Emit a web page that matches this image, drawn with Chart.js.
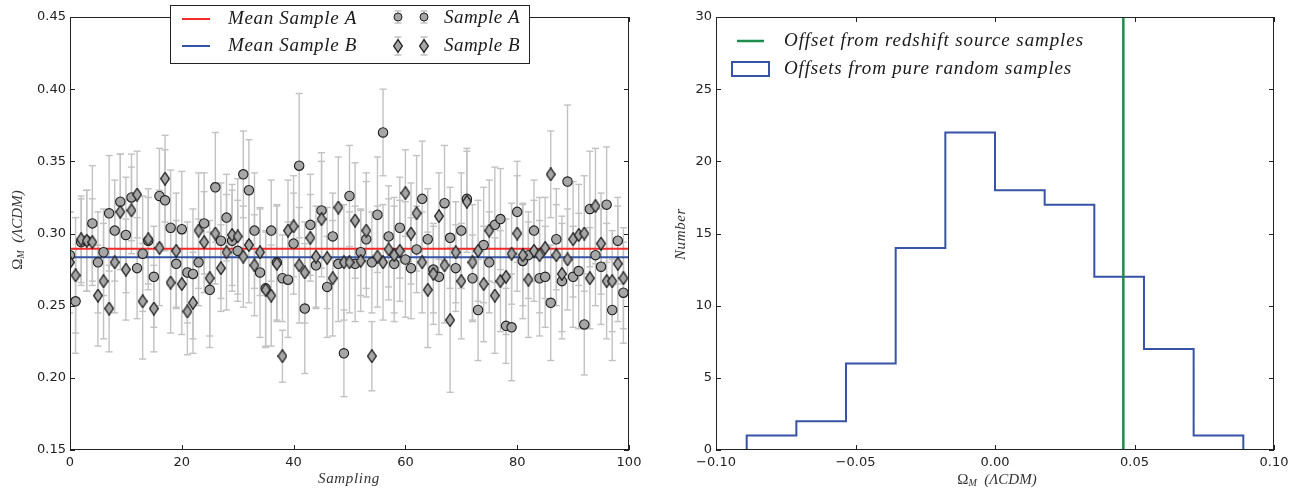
<!DOCTYPE html>
<html>
<head>
<meta charset="utf-8">
<title>Omega_M samples</title>
<script src="https://cdn.jsdelivr.net/npm/chart.js@4.4.1/dist/chart.umd.min.js"></script>
<style>
  html, body { margin: 0; padding: 0; background: #fff; }
  #wrap { position: relative; width: 1306px; height: 491px; overflow: hidden; }
  .panel { position: absolute; top: 0; width: 653px; height: 491px; }
</style>
</head>
<body>
<div id="wrap">
  <div class="panel" style="left:0"><canvas id="left" width="653" height="491"></canvas></div>
  <div class="panel" style="left:653px"><canvas id="right" width="653" height="491"></canvas></div>
</div>
<script>
// ---- left panel: 100 samplings ----
const sampling = Array.from({ length: 100 }, (_, i) => i);

const sampleA = [
  0.285, 0.253, 0.294, 0.295, 0.307, 0.280, 0.287, 0.314, 0.302, 0.322,
  0.299, 0.325, 0.276, 0.286, 0.295, 0.270, 0.326, 0.323, 0.304, 0.279,
  0.303, 0.273, 0.272, 0.280, 0.307, 0.261, 0.332, 0.295, 0.311, 0.295,
  0.288, 0.341, 0.330, 0.302, 0.273, 0.262, 0.302, 0.280, 0.269, 0.268,
  0.293, 0.347, 0.248, 0.306, 0.278, 0.316, 0.263, 0.298, 0.279, 0.217,
  0.326, 0.279, 0.287, 0.296, 0.280, 0.313, 0.370, 0.298, 0.279, 0.304,
  0.282, 0.276, 0.289, 0.324, 0.296, 0.275, 0.270, 0.321, 0.297, 0.276,
  0.302, 0.324, 0.269, 0.247, 0.292, 0.280, 0.306, 0.310, 0.236, 0.235,
  0.315, 0.281, 0.285, 0.302, 0.269, 0.270, 0.252, 0.296, 0.267, 0.336,
  0.270, 0.274, 0.237, 0.317, 0.285, 0.277, 0.320, 0.247, 0.295, 0.259
];
const errA = [
  0.030, 0.036, 0.030, 0.035, 0.040, 0.035, 0.030, 0.040, 0.035, 0.033,
  0.040, 0.030, 0.035, 0.040, 0.030, 0.035, 0.033, 0.035, 0.040, 0.030,
  0.040, 0.035, 0.045, 0.030, 0.035, 0.040, 0.038, 0.040, 0.030, 0.035,
  0.035, 0.030, 0.035, 0.040, 0.045, 0.040, 0.035, 0.040, 0.030, 0.040,
  0.035, 0.050, 0.045, 0.035, 0.030, 0.040, 0.035, 0.030, 0.040, 0.030,
  0.035, 0.040, 0.030, 0.040, 0.035, 0.040, 0.030, 0.035, 0.040, 0.035,
  0.040, 0.035, 0.030, 0.040, 0.035, 0.030, 0.040, 0.040, 0.035, 0.030,
  0.040, 0.035, 0.030, 0.035, 0.040, 0.035, 0.040, 0.035, 0.026, 0.037,
  0.035, 0.040, 0.030, 0.035, 0.040, 0.035, 0.040, 0.035, 0.040, 0.053,
  0.035, 0.040, 0.035, 0.040, 0.035, 0.040, 0.040, 0.035, 0.030, 0.035
];
const sampleB = [
  0.280, 0.271, 0.296, 0.295, 0.294, 0.257, 0.267, 0.248, 0.280, 0.315,
  0.275, 0.316, 0.327, 0.253, 0.296, 0.248, 0.290, 0.338, 0.266, 0.288,
  0.265, 0.246, 0.252, 0.302, 0.294, 0.269, 0.300, 0.276, 0.287, 0.299,
  0.298, 0.284, 0.292, 0.278, 0.287, 0.261, 0.257, 0.279, 0.215, 0.302,
  0.305, 0.278, 0.273, 0.297, 0.284, 0.310, 0.283, 0.269, 0.318, 0.280,
  0.280, 0.309, 0.281, 0.302, 0.215, 0.284, 0.280, 0.289, 0.285, 0.288,
  0.328, 0.300, 0.314, 0.280, 0.261, 0.272, 0.312, 0.278, 0.240, 0.287,
  0.267, 0.322, 0.280, 0.288, 0.265, 0.302, 0.257, 0.267, 0.270, 0.286,
  0.300, 0.285, 0.268, 0.288, 0.285, 0.290, 0.341, 0.285, 0.272, 0.282,
  0.296, 0.299, 0.300, 0.269, 0.319, 0.293, 0.267, 0.267, 0.279, 0.269
];
const errB = [
  0.035, 0.040, 0.030, 0.035, 0.030, 0.035, 0.040, 0.030, 0.035, 0.040,
  0.035, 0.030, 0.030, 0.040, 0.035, 0.030, 0.040, 0.030, 0.035, 0.040,
  0.035, 0.030, 0.035, 0.040, 0.035, 0.040, 0.035, 0.030, 0.040, 0.035,
  0.040, 0.035, 0.040, 0.035, 0.030, 0.040, 0.035, 0.040, 0.018, 0.035,
  0.035, 0.040, 0.035, 0.030, 0.035, 0.040, 0.035, 0.040, 0.035, 0.040,
  0.035, 0.040, 0.035, 0.040, 0.024, 0.035, 0.040, 0.035, 0.040, 0.035,
  0.030, 0.035, 0.040, 0.035, 0.040, 0.035, 0.030, 0.040, 0.050, 0.035,
  0.040, 0.035, 0.040, 0.035, 0.040, 0.035, 0.040, 0.035, 0.040, 0.035,
  0.040, 0.035, 0.040, 0.035, 0.040, 0.035, 0.030, 0.035, 0.040, 0.035,
  0.040, 0.035, 0.040, 0.035, 0.040, 0.035, 0.040, 0.035, 0.040, 0.035
];
const meanA = 0.2895;
const meanB = 0.2835;
const leftYTicks = [0.15, 0.20, 0.25, 0.30, 0.35, 0.40, 0.45];
const leftXTicks = [0, 20, 40, 60, 80, 100];

// ---- right panel: histogram of offsets ----
const binEdges = [-0.089, -0.0712, -0.0534, -0.0356, -0.0178, 0.0, 0.0178, 0.0356, 0.0534, 0.0712, 0.089];
const binCounts = [1, 2, 6, 14, 22, 18, 17, 12, 7, 1];
const redshiftOffset = 0.046;
const rightXTicks = [-0.10, -0.05, 0.00, 0.05, 0.10];
const rightYTicks = [0, 5, 10, 15, 20, 25, 30];

const SERIF = '"Liberation Serif"';
const MARKER_FILL = '#a6a6a6';
const MARKER_EDGE = '#1e1e1e';
const ERR_COLOR = '#c2c2c2';
const RED = '#f42a2a';
const BLUE = '#3653a5';
const GREEN = '#1e8c4c';

// thin diamond marker (matplotlib 'd')
function makeDiamond(w, h) {
  const c = document.createElement('canvas');
  c.width = w; c.height = h;
  const g = c.getContext('2d');
  g.beginPath();
  g.moveTo(w / 2, 0.7);
  g.lineTo(w - 0.7, h / 2);
  g.lineTo(w / 2, h - 0.7);
  g.lineTo(0.7, h / 2);
  g.closePath();
  g.fillStyle = MARKER_FILL;
  g.fill();
  g.lineWidth = 1.3;
  g.strokeStyle = MARKER_EDGE;
  g.stroke();
  return c;
}
const diamond = makeDiamond(10, 14);

const toPts = vals => sampling.map((x, i) => ({ x: x, y: vals[i] }));
const toErr = (vals, errs) => {
  const out = [];
  sampling.forEach((x, i) => {
    out.push({ x: x, y: vals[i] - errs[i] }, { x: x, y: vals[i] + errs[i] }, { x: x, y: null });
  });
  return out;
};

function tickFixed(list) {
  return function (scale) {
    scale.ticks = list.map(v => ({ value: v }));
  };
}

function fmt2(v) {
  if (Math.abs(v) < 1e-9) return '0.00';
  return (v < 0 ? '\u2212' : '') + Math.abs(v).toFixed(2);
}

// text spread / squeezed to a target width
function fitText(ctx, text, x, y, font, width, align) {
  ctx.font = font;
  ctx.letterSpacing = '0px';
  const w0 = ctx.measureText(text).width;
  const s = (width - w0) / text.length;
  ctx.letterSpacing = s.toFixed(2) + 'px';
  ctx.textAlign = align || 'left';
  ctx.fillText(text, x, y);
  ctx.letterSpacing = '0px';
}

// "Ω_M (ΛCDM)" label centred on the current origin
function omegaLabel(ctx) {
  const parts = [
    { t: '\u03A9', f: '15px ' + SERIF, dy: 0 },
    { t: 'M', f: 'italic 10px ' + SERIF, dy: 3 },
    { t: '  (\u039BCDM)', f: 'italic 15px ' + SERIF, dy: 0 }
  ];
  let total = 0;
  parts.forEach(p => { ctx.font = p.f; p.w = ctx.measureText(p.t).width; total += p.w; });
  let cx = -total / 2;
  ctx.textAlign = 'left';
  ctx.textBaseline = 'middle';
  parts.forEach(p => { ctx.font = p.f; ctx.fillText(p.t, cx, p.dy); cx += p.w; });
}

function frameAndTicks(chart) {
  const { ctx, chartArea: a, scales } = chart;
  const len = 5;
  ctx.save();
  ctx.strokeStyle = '#222';
  ctx.lineWidth = 1;
  ctx.beginPath();
  scales.x.ticks.forEach(t => {
    const px = Math.round(scales.x.getPixelForValue(t.value)) + 0.5;
    ctx.moveTo(px, a.bottom); ctx.lineTo(px, a.bottom - len);
    ctx.moveTo(px, a.top); ctx.lineTo(px, a.top + len);
  });
  scales.y.ticks.forEach(t => {
    const py = Math.round(scales.y.getPixelForValue(t.value)) + 0.5;
    ctx.moveTo(a.left, py); ctx.lineTo(a.left + len, py);
    ctx.moveTo(a.right, py); ctx.lineTo(a.right - len, py);
  });
  ctx.stroke();
  ctx.strokeRect(Math.round(a.left) + 0.5, Math.round(a.top) + 0.5,
    Math.round(a.right - a.left) - 1, Math.round(a.bottom - a.top) - 1);
  ctx.restore();
}

function errIcon(ctx, x, y, half, marker) {
  ctx.strokeStyle = ERR_COLOR;
  ctx.lineWidth = 1.5;
  ctx.beginPath();
  ctx.moveTo(x, y - half); ctx.lineTo(x, y + half);
  ctx.moveTo(x - 3.5, y - half); ctx.lineTo(x + 3.5, y - half);
  ctx.moveTo(x - 3.5, y + half); ctx.lineTo(x + 3.5, y + half);
  ctx.stroke();
  if (marker === 'circle') {
    ctx.beginPath();
    ctx.arc(x, y, 4, 0, Math.PI * 2);
    ctx.fillStyle = MARKER_FILL;
    ctx.fill();
    ctx.lineWidth = 1;
    ctx.strokeStyle = MARKER_EDGE;
    ctx.stroke();
  } else {
    ctx.drawImage(diamond, x - diamond.width / 2, y - diamond.height / 2);
  }
}

const leftDecor = {
  id: 'leftDecor',
  afterDraw(chart) {
    const ctx = chart.ctx;
    frameAndTicks(chart);
    ctx.save();
    // legend box
    ctx.fillStyle = '#fff';
    ctx.fillRect(170, 5, 359, 58);
    ctx.strokeStyle = '#222';
    ctx.lineWidth = 1;
    ctx.strokeRect(170.5, 5.5, 359, 58);
    ctx.lineWidth = 2;
    ctx.strokeStyle = RED;
    ctx.beginPath(); ctx.moveTo(182, 19); ctx.lineTo(210, 19); ctx.stroke();
    ctx.strokeStyle = BLUE;
    ctx.beginPath(); ctx.moveTo(182, 46); ctx.lineTo(210, 46); ctx.stroke();
    errIcon(ctx, 398, 17, 6, 'circle');
    errIcon(ctx, 424, 17, 6, 'circle');
    errIcon(ctx, 398, 46, 9, 'diamond');
    errIcon(ctx, 424, 46, 9, 'diamond');
    ctx.fillStyle = '#1a1a1a';
    ctx.textBaseline = 'middle';
    fitText(ctx, 'Mean Sample A', 228, 19, 'italic 19px ' + SERIF, 129);
    fitText(ctx, 'Mean Sample B', 228, 46, 'italic 19px ' + SERIF, 129);
    fitText(ctx, 'Sample A', 444, 18, 'italic 19px ' + SERIF, 76);
    fitText(ctx, 'Sample B', 444, 46, 'italic 19px ' + SERIF, 76);
    // axis titles
    ctx.fillStyle = '#333';
    fitText(ctx, 'Sampling', 349, 479, 'italic 15px ' + SERIF, 62, 'center');
    ctx.translate(18, 230);
    ctx.rotate(-Math.PI / 2);
    omegaLabel(ctx);
    ctx.restore();
  }
};

const rightDecor = {
  id: 'rightDecor',
  afterDraw(chart) {
    const ctx = chart.ctx;
    frameAndTicks(chart);
    ctx.save();
    const ox = 653;
    ctx.strokeStyle = GREEN;
    ctx.lineWidth = 2.5;
    ctx.beginPath(); ctx.moveTo(737 - ox, 41); ctx.lineTo(764 - ox, 41); ctx.stroke();
    ctx.strokeStyle = BLUE;
    ctx.lineWidth = 2;
    ctx.strokeRect(732 - ox, 62, 37, 14);
    ctx.fillStyle = '#1a1a1a';
    ctx.textBaseline = 'middle';
    fitText(ctx, 'Offset from redshift source samples', 784 - ox, 41, 'italic 19px ' + SERIF, 300);
    fitText(ctx, 'Offsets from pure random samples', 784 - ox, 69, 'italic 19px ' + SERIF, 288);
    ctx.fillStyle = '#333';
    ctx.save();
    ctx.translate(997 - ox, 480);
    omegaLabel(ctx);
    ctx.restore();
    ctx.translate(681 - ox, 234);
    ctx.rotate(-Math.PI / 2);
    fitText(ctx, 'Number', 0, 0, 'italic 15px ' + SERIF, 52, 'center');
    ctx.restore();
  }
};

const tickFont = { family: 'DejaVu Sans', size: 13 };

const leftChart = new Chart(document.getElementById('left'), {
  type: 'scatter',
  data: {
    datasets: [
      {
        label: 'Sample B', data: toPts(sampleB), pointStyle: diamond, pointRadius: 6,
        order: 0
      },
      {
        label: 'Sample A', data: toPts(sampleA), pointStyle: 'circle', pointRadius: 4.7,
        backgroundColor: MARKER_FILL, borderColor: MARKER_EDGE, borderWidth: 1.1, order: 1
      },
      {
        type: 'line', label: 'Mean Sample A', data: [{ x: 0, y: meanA }, { x: 100, y: meanA }],
        borderColor: RED, borderWidth: 2, pointRadius: 0, order: 2
      },
      {
        type: 'line', label: 'Mean Sample B', data: [{ x: 0, y: meanB }, { x: 100, y: meanB }],
        borderColor: BLUE, borderWidth: 2, pointRadius: 0, order: 2
      },
      {
        type: 'line', label: 'err B', data: toErr(sampleB, errB), spanGaps: false,
        borderColor: ERR_COLOR, borderWidth: 1.4, pointStyle: 'line', pointRadius: 3.5,
        pointBorderColor: ERR_COLOR, pointBorderWidth: 1.4, order: 3
      },
      {
        type: 'line', label: 'err A', data: toErr(sampleA, errA), spanGaps: false,
        borderColor: ERR_COLOR, borderWidth: 1.4, pointStyle: 'line', pointRadius: 3.5,
        pointBorderColor: ERR_COLOR, pointBorderWidth: 1.4, order: 4
      }
    ]
  },
  options: {
    responsive: false,
    animation: false,
    devicePixelRatio: 1,
    layout: { padding: { top: 17, right: 24, left: 0, bottom: 0 } },
    plugins: { legend: { display: false }, tooltip: { enabled: false } },
    scales: {
      x: {
        type: 'linear', min: 0, max: 100,
        afterFit: s => { s.height = 41; },
        afterBuildTicks: tickFixed(leftXTicks),
        grid: { display: false, drawTicks: false },
        border: { display: false },
        ticks: { padding: 5, color: '#222', font: tickFont, maxRotation: 0 }
      },
      y: {
        type: 'linear', min: 0.15, max: 0.45,
        afterFit: s => { s.width = 70; },
        afterBuildTicks: tickFixed(leftYTicks),
        grid: { display: false, drawTicks: false },
        border: { display: false },
        ticks: { padding: 4, color: '#222', font: tickFont, callback: v => fmt2(v) }
      }
    }
  },
  plugins: [leftDecor]
});

const histPts = [{ x: binEdges[0], y: 0 }]
  .concat(binCounts.map((c, i) => ({ x: binEdges[i], y: c })))
  .concat([{ x: binEdges[binEdges.length - 1], y: 0 }]);

const rightChart = new Chart(document.getElementById('right'), {
  type: 'line',
  data: {
    datasets: [
      {
        label: 'Offset from redshift source samples',
        data: [{ x: redshiftOffset, y: 0 }, { x: redshiftOffset, y: 30 }],
        borderColor: GREEN, borderWidth: 2.5, pointRadius: 0, order: 0
      },
      {
        label: 'Offsets from pure random samples', data: histPts, stepped: 'before',
        borderColor: BLUE, borderWidth: 2, pointRadius: 0, fill: false, order: 1
      }
    ]
  },
  options: {
    responsive: false,
    animation: false,
    devicePixelRatio: 1,
    layout: { padding: { top: 17, right: 32, left: 0, bottom: 0 } },
    plugins: { legend: { display: false }, tooltip: { enabled: false } },
    scales: {
      x: {
        type: 'linear', min: -0.1, max: 0.1,
        afterFit: s => { s.height = 41; },
        afterBuildTicks: tickFixed(rightXTicks),
        grid: { display: false, drawTicks: false },
        border: { display: false },
        ticks: { padding: 5, color: '#222', font: tickFont, maxRotation: 0, callback: v => fmt2(v) }
      },
      y: {
        type: 'linear', min: 0, max: 30,
        afterFit: s => { s.width = 63; },
        afterBuildTicks: tickFixed(rightYTicks),
        grid: { display: false, drawTicks: false },
        border: { display: false },
        ticks: { padding: 4, color: '#222', font: tickFont }
      }
    }
  },
  plugins: [rightDecor]
});
</script>
</body>
</html>
